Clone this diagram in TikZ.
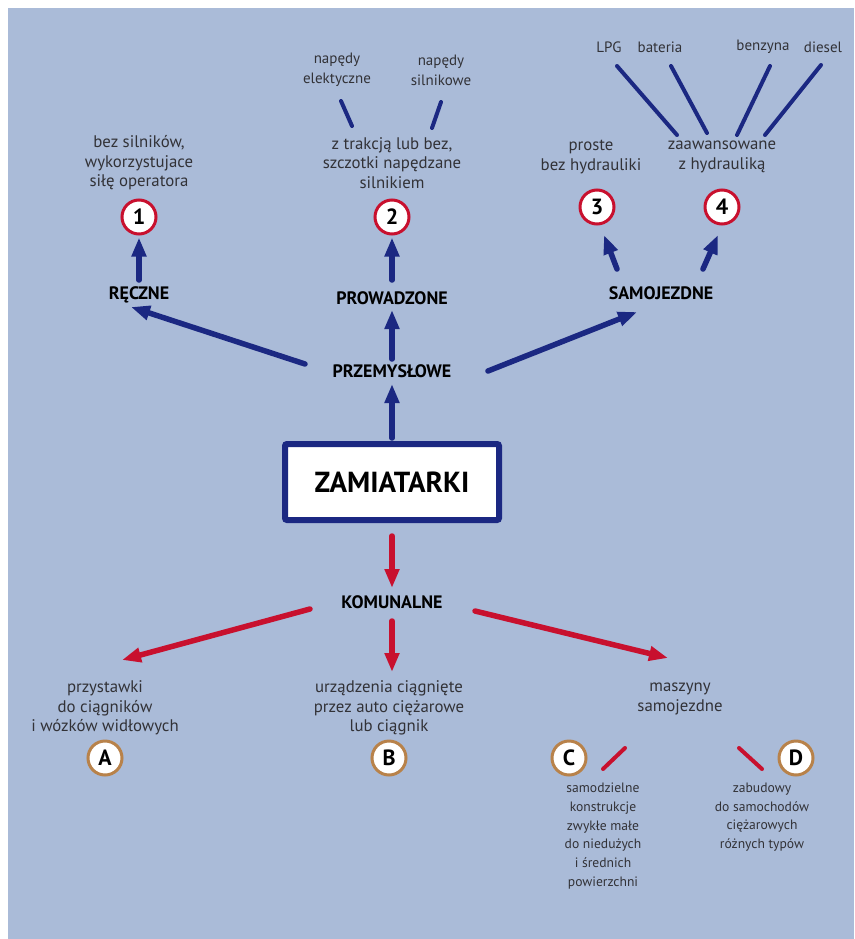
\documentclass[tikz,border=0pt]{standalone}
\usepackage{fontspec}
\setmainfont{PT Sans}
\usetikzlibrary{arrows.meta}

\definecolor{bgblue}{RGB}{170,187,216}
\definecolor{dblue}{RGB}{27,40,130}
\definecolor{dred}{RGB}{200,16,46}
\definecolor{dbrown}{RGB}{184,130,74}
\definecolor{txtgrey}{RGB}{50,50,55}

\begin{document}
\begin{tikzpicture}[x=1pt, y=-1pt,
        mainbox/.style={draw=dblue, line width=6pt, rounded corners=2pt, fill=white, minimum width=214pt, minimum height=76pt, font=\fontsize{29}{29}\selectfont\bfseries},
        catlabel/.style={inner sep=0pt, text height=12.6pt, text depth=0pt, font=\fontsize{18}{18}\selectfont\bfseries},
        numcircle/.style={circle, draw=dred, line width=3pt, fill=white, minimum size=34pt, inner sep=0pt, font=\fontsize{22}{22}\selectfont\bfseries},
        letcircle/.style={numcircle, draw=dbrown},
        desc/.style={align=center, inner sep=0pt, text=txtgrey, font=\fontsize{16.8}{19.5}\selectfont},
        smalldesc/.style={desc, font=\fontsize{15}{20}\selectfont},
        notedesc/.style={desc, font=\fontsize{13.6}{18.7}\selectfont},
        arrB/.style={draw=dblue, line width=5.5pt, line cap=round, -{Triangle[length=19pt, width=14pt]}},
        arrR/.style={arrB, draw=dred},
        spokeB/.style={draw=dblue, line width=4pt, line cap=round},
        spokeR/.style={spokeB, draw=dred}
      ]
        \useasboundingbox (0,0) rectangle (854,939);
        \fill[bgblue] (8,8) rectangle (854,939);

        % main box and category labels
        \node[mainbox] (box) at (392,482) {ZAMIATARKI};
        \node[catlabel] (przem) at (392,371) {PRZEMYSŁOWE};
        \node[catlabel] (prow) at (392,298) {PROWADZONE};
        \node[catlabel] (reczne) at (139,293) {RĘCZNE};
        \node[catlabel] (samo) at (661,293) {SAMOJEZDNE};
        \node[catlabel] (kom) at (392,602) {KOMUNALNE};

        % numbered and lettered circles
        \node[numcircle] (c1) at (139,217) {1};
        \node[numcircle] (c2) at (392,217) {2};
        \node[numcircle] (c3) at (597,207) {3};
        \node[numcircle] (c4) at (722,207) {4};
        \node[letcircle] (cA) at (105,758) {A};
        \node[letcircle] (cB) at (389,758) {B};
        \node[letcircle] (cC) at (569,758) {C};
        \node[letcircle] (cD) at (796,758) {D};

        % descriptions, upper half
        \node[desc] (t1) at (139,163) {bez silników,\\wykorzystujace\\siłę operatora};
        \node[desc] (t2) at (392,163) {z trakcją lub bez,\\szczotki napędzane\\silnikiem};
        \node[desc] (t3) at (591,157) {proste\\bez hydrauliki};
        \node[desc] (t4) at (722,157) {zaawansowane\\z hydrauliką};
        \node[smalldesc] (n1) at (337,70) {napędy\\elektyczne};
        \node[smalldesc] (n2) at (441,70) {napędy\\silnikowe};
        \node[smalldesc] (f1) at (609,47) {LPG};
        \node[smalldesc] (f2) at (660,47) {bateria};
        \node[smalldesc] (f3) at (763,47) {benzyna};
        \node[smalldesc] (f4) at (823,47) {diesel};

        % descriptions, lower half
        \node[desc] (tA) at (105,708) {przystawki\\do ciągników\\i wózków widłowych};
        \node[desc] (tB) at (389,708) {urządzenia ciągnięte\\przez auto ciężarowe\\lub ciągnik};
        \node[desc] (tM) at (680,699) {maszyny\\samojezdne};
        \node[notedesc] (tC) at (603,836) {samodzielne\\konstrukcje\\zwykłe małe\\do niedużych\\i średnich\\powierzchni};
        \node[notedesc] (tD) at (762,817) {zabudowy\\do samochodów\\ciężarowych\\różnych typów};

        % blue arrows
        \draw[arrB] ([shift={(0,-3)}]box.north) -- ([shift={(0,13)}]przem.center);
        \draw[arrB] ([shift={(0,-12)}]przem.center) -- ([shift={(0,12)}]prow.center);
        \draw[arrB] ([shift={(0,-18)}]prow.center) -- ([shift={(0,2)}]c2.south);
        \draw[arrB] ([shift={(0,-13)}]reczne.center) -- ([shift={(0,2)}]c1.south);
        \draw[arrB] ([shift={(-87,-7)}]przem.center) -- ([shift={(-8,14)}]reczne.center);
        \draw[arrB] ([shift={(96,0)}]przem.center) -- ([shift={(-24,19)}]samo.center);
        \draw[arrB] ([shift={(-44,-24)}]samo.center) -- ([shift={(7,28)}]c3.center);
        \draw[arrB] ([shift={(42,-24)}]samo.center) -- ([shift={(-4,28)}]c4.center);

        \draw[spokeB] ([shift={(4,31)}]n1.center) -- ([shift={(-40,-37)}]t2.center);
        \draw[spokeB] ([shift={(0,32)}]n2.center) -- ([shift={(40,-35)}]t2.center);
        \draw[spokeB] ([shift={(8,19)}]f1.center) -- ([shift={(-45,-22)}]t4.center);
        \draw[spokeB] ([shift={(11,19)}]f2.center) -- ([shift={(-15,-24)}]t4.center);
        \draw[spokeB] ([shift={(7,19)}]f3.center) -- ([shift={(15,-22)}]t4.center);
        \draw[spokeB] ([shift={(-2,18)}]f4.center) -- ([shift={(43,-22)}]t4.center);

        % red arrows
        \draw[arrR] ([shift={(0,13)}]box.south) -- ([shift={(0,-14)}]kom.center);
        \draw[arrR] ([shift={(0,19)}]kom.center) -- ([shift={(3,-36)}]tB.center);
        \draw[arrR] ([shift={(-82,7)}]kom.center) -- ([shift={(17,-48)}]tA.center);
        \draw[arrR] ([shift={(83,9)}]kom.center) -- ([shift={(-12,-41)}]tM.center);

        \draw[spokeR] ([shift={(-55,49)}]tM.center) -- ([shift={(0,-67)}]tC.center);
        \draw[spokeR] ([shift={(59,49)}]tM.center) -- ([shift={(0,-48)}]tD.center);
      \end{tikzpicture}
\end{document}
